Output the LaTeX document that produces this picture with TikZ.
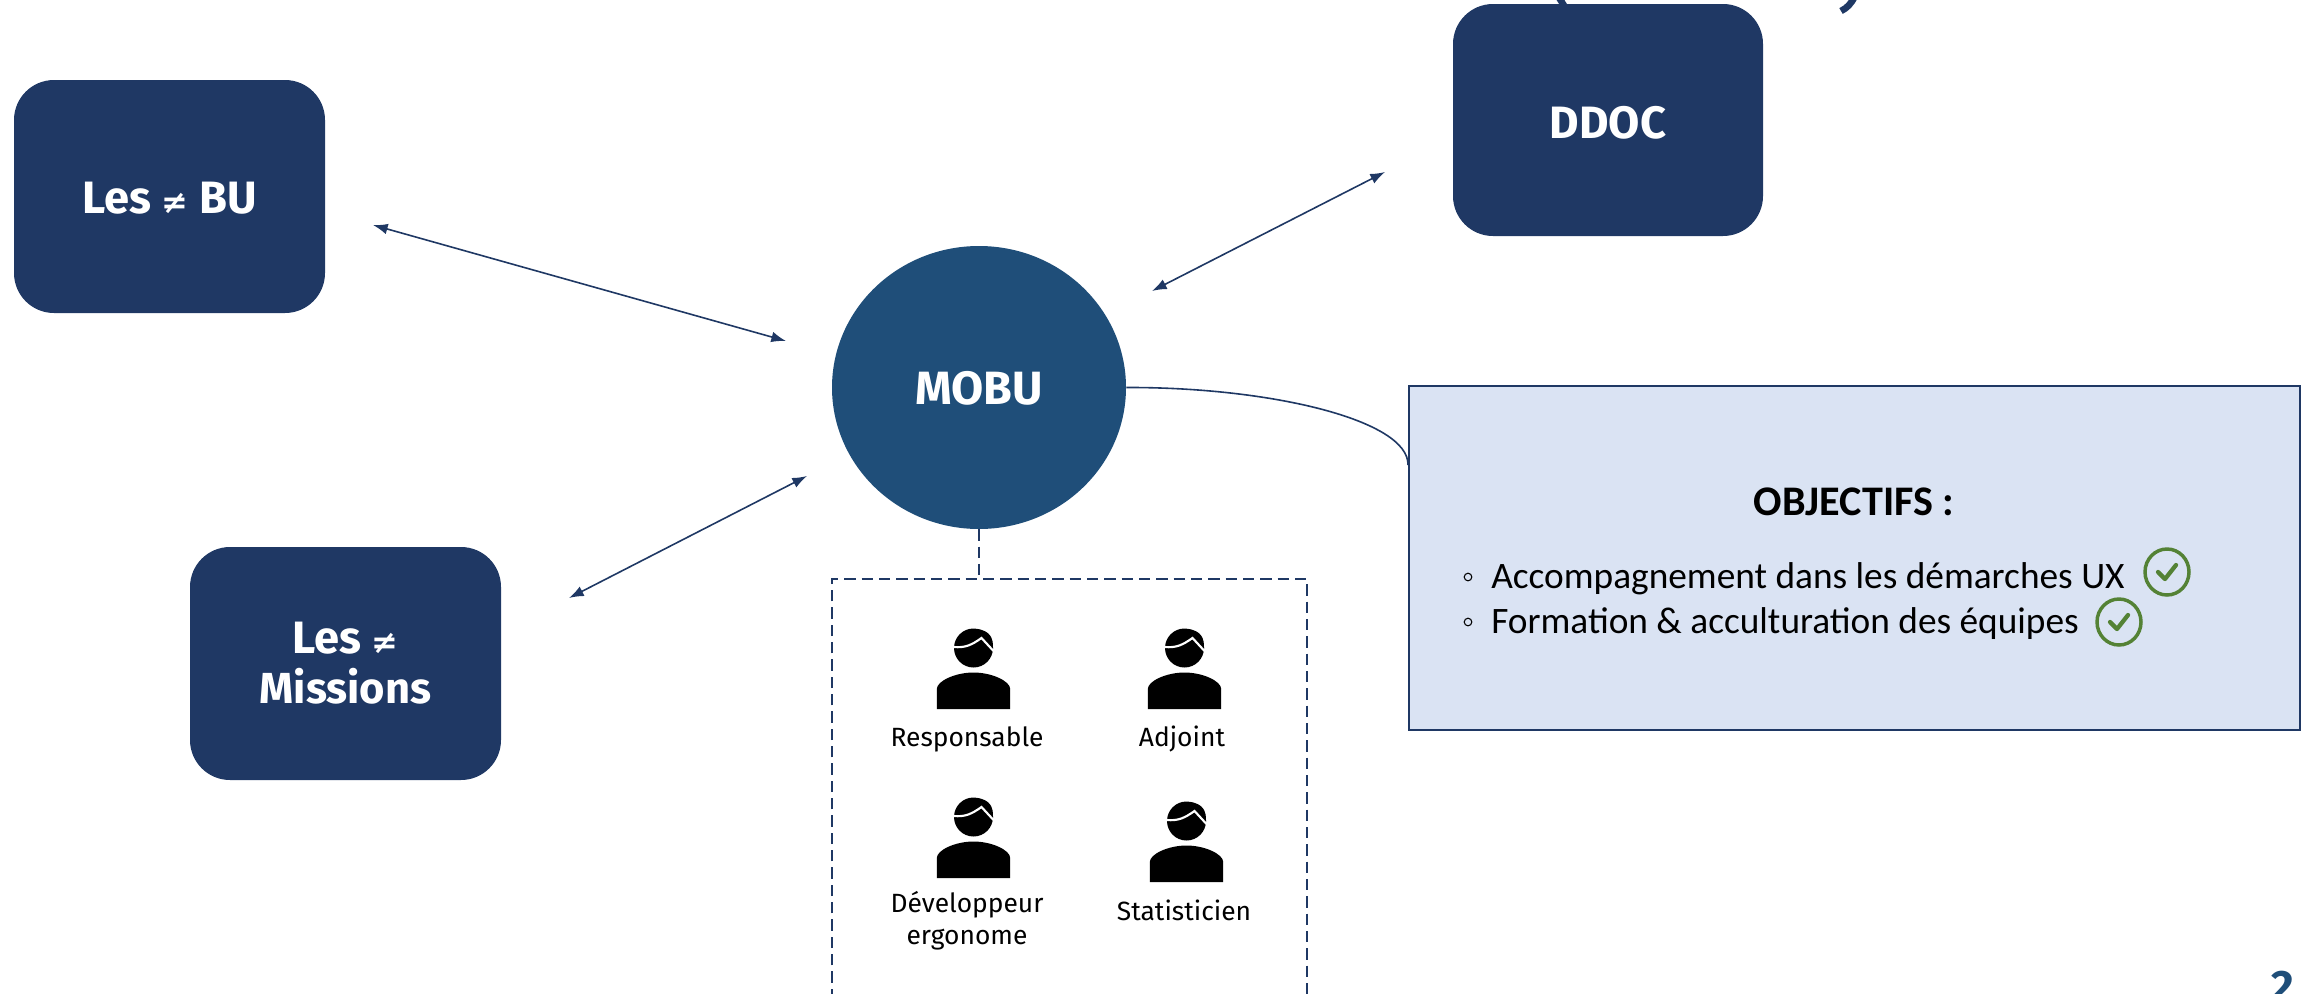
\documentclass[tikz,border=0pt]{standalone}
\usepackage{fontspec}
\usetikzlibrary{arrows.meta,shapes.geometric}
\setmainfont{Fira Sans}
\newfontfamily\calib{Carlito}
\newfontfamily\dejav{DejaVu Sans}
\definecolor{navy}{HTML}{1F3864}
\definecolor{mobu}{HTML}{1F4E79}
\definecolor{pale}{HTML}{DAE3F3}
\definecolor{okgreen}{HTML}{548235}
\newcommand{\neqsign}{{\dejav\fontsize{24}{24}\selectfont\bfseries ≠}}
\tikzset{
 x=0.75pt,y=-0.75pt,
 bluebox/.style={draw=none,fill=navy,rounded corners=30pt,text=white,font=\fontsize{34}{37.5}\selectfont\bfseries,align=center},
 link/.style={draw=navy,line width=1.2pt,{Latex[length=11pt,width=8pt]}-{Latex[length=11pt,width=8pt]}},
 rolelabel/.style={font=\fontsize{19.8}{25}\selectfont,align=center,text=black,inner sep=0pt},
 teamline/.style={navy,line width=2pt,dash pattern=on 8.5pt off 4.5pt},
 person/.pic={
   \fill[black] (-36.7,0) -- (-36.7,-20) .. controls (-36.7,-28) and (-18,-36.5) .. (0,-36.5) .. controls (18,-36.5) and (36.7,-28) .. (36.7,-20) -- (36.7,0) -- cycle;
   \fill[black] (0,-61) circle[radius=19.5];
   \fill[black] (4,-80) .. controls (16,-78) and (20,-72) .. (19.5,-60) -- (5,-60) -- cycle;
   \draw[white,line width=1.6pt] (-20,-62) .. controls (-8,-61) and (-2,-64) .. (8,-71) -- (20,-58);
 },
 okmark/.pic={
   \draw[okgreen,line width=2.6pt] (0,0) ellipse[x radius=22,y radius=23];
   \draw[okgreen,line width=3.2pt,line cap=round,line join=round] (-9,0) -- (-2,7) -- (9,-7);
 }
}
\begin{document}
\begin{tikzpicture}
\useasboundingbox (0,0) rectangle (2313,993);
\clip (0,0) rectangle (2313,993);
% clipped title fragments
\draw[navy,line width=5pt] (1558,-4) -- (1568,12);
\draw[navy,line width=5pt] (1855,-4) .. controls (1851,4) and (1847,8) .. (1841,11);
\node[bluebox,minimum width=311pt*0.75,minimum height=233pt*0.75,text height=25pt,text depth=0pt] (bu) at (169.5,196.5) {Les \neqsign{} BU};
\node[bluebox,minimum width=311pt*0.75,minimum height=233pt*0.75] (miss) at (345.5,663.5) {Les \neqsign{}\\{\fontsize{32.6}{37.5}\selectfont Missions}};
\node[bluebox,minimum width=310pt*0.75,minimum height=232pt*0.75,text height=27pt,text depth=0pt] (ddoc) at (1608,120) {DDOC};
\node[fill=mobu,ellipse,minimum width=294pt*0.75,minimum height=283pt*0.75,inner sep=0pt,text=white,font=\fontsize{35}{38}\selectfont\bfseries,text height=25.5pt,text depth=0pt] (mobu) at (979,387.5) {MOBU};
\node[draw=navy,line width=1.5pt,fill=pale,minimum width=891pt*0.75,minimum height=344pt*0.75,inner sep=0pt] (obj) at (1854.5,558) {};
\coordinate (buEnd) at (373,225);
\coordinate (buMob) at (786,341);
\coordinate (ddEnd) at (1385,172);
\coordinate (ddMob) at (1152,291);
\coordinate (miEnd) at (569,598);
\coordinate (miMob) at (807,476);
\draw[link] (buEnd) -- (buMob);
\draw[link] (ddEnd) -- (ddMob);
\draw[link] (miEnd) -- (miMob);
\draw[navy,line width=1.2pt] (mobu.east) .. controls (1270,387) and (1409,420) .. (obj.west |- 0,465);
% team box
\coordinate (tl) at (832,579);
\coordinate (tr) at (1307,579);
\draw[teamline] (832,1000) -- (tl) -- (tr) -- (1307,1000);
\draw[teamline] (mobu.south) -- (979,579);
\pic at (973.5,709) {person};
\pic at (1184.5,709) {person};
\pic at (973.5,878) {person};
\pic at (1186.5,882) {person};
\node[rolelabel,anchor=base] (r1) at (967,746) {Responsable};
\node[rolelabel,anchor=base] (r2) at (1182,746) {Adjoint};
\node[rolelabel,anchor=base] (r3) at (967,912) {Développeur};
\node[rolelabel,anchor=base] (r3b) at (967,944) {ergonome};
\node[rolelabel,anchor=base] (r4) at (1184,920) {Statisticien};
% objectifs text
\node[font=\calib\fontsize{31.6}{36}\selectfont\bfseries,inner sep=0pt,anchor=base] (ot) at (1854,515) {OBJECTIFS :};
\node[font=\calib\fontsize{28}{30}\selectfont,inner sep=0pt,anchor=base west] (o1) at (1491,588) {Accompagnement dans les démarches UX};
\node[font=\calib\fontsize{28}{30}\selectfont,inner sep=0pt,anchor=base west] (o2) at (1491,633) {Formation \& acculturation des équipes};
\draw[black,line width=0.8pt] (1468,577) circle[radius=3.8];
\draw[black,line width=0.8pt] (1468,622) circle[radius=3.8];
\pic at (2167,572) {okmark};
\pic at (2119,622) {okmark};
% page number
\node[font=\fontsize{33}{40}\selectfont\bfseries,text=mobu,inner sep=0pt,anchor=base] (pg) at (2283,1001) {2};
\end{tikzpicture}
\end{document}
